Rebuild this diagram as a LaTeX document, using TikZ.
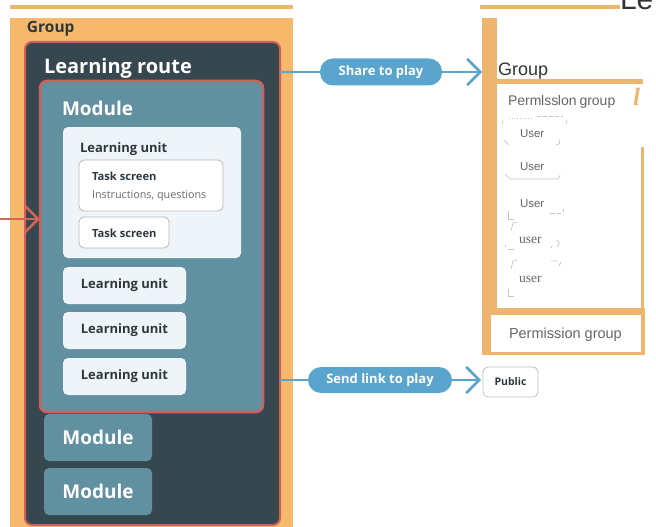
\documentclass[tikz,border=0pt]{standalone}
\usepackage{fontspec}
\setmainfont{Open Sans}
\newfontfamily\arialf{Liberation Sans}
\newfontfamily\timesf{Liberation Serif}
\usetikzlibrary{arrows.meta}
\definecolor{orangeG}{HTML}{F6B96B}
\definecolor{lineO}{HTML}{EDB56E}
\definecolor{darkR}{HTML}{37474F}
\definecolor{redB}{HTML}{CF615C}
\definecolor{modF}{HTML}{6190A1}
\definecolor{luF}{HTML}{EEF4F7}
\definecolor{blueA}{HTML}{5AA5CE}
\definecolor{txtD}{HTML}{2D383E}
\definecolor{grayT}{HTML}{666666}
\definecolor{artG}{HTML}{C4C4C4}
\begin{document}
\begin{tikzpicture}[x=1pt,y=-1pt,
  rect/.style={anchor=north west,inner sep=0pt,outer sep=0pt},
  lbl/.style={anchor=base west,inner sep=0pt,outer sep=0pt},
  lubox/.style={rect,fill=luF,rounded corners=5pt},
  taskbox/.style={rect,fill=white,draw=gray!55,line width=0.8pt,rounded corners=5pt},
  modsmall/.style={rect,fill=modF,rounded corners=5pt},
  pill/.style={fill=blueA,rounded corners=13pt,inner sep=0pt,text=white,font=\bfseries\fontsize{13}{15}\selectfont},
  bluearrow/.style={draw=blueA,line width=2.5pt,-{Straight Barb[length=13pt,width=26pt]}},
  artmark/.style={draw=artG,line width=0.7pt},
]
\useasboundingbox (0,0) rectangle (656,527);
\clip (0,0) rectangle (656,527);
% ---------- left side ----------
\fill[lineO] (10,5) rectangle (293,9);
\node[rect,fill=orangeG,minimum width=283pt,minimum height=520pt] (grp) at (10,18) {};
\node[lbl,text=txtD,font=\bfseries\fontsize{15.5}{17}\selectfont] (grpT) at (27,33) {Group};
\node[rect,fill=darkR,draw=redB,line width=2pt,rounded corners=7pt,minimum width=255pt,minimum height=483pt] (route) at (25,42) {};
\node[lbl,text=white,font=\bfseries\fontsize{20}{22}\selectfont] (routeT) at (44,74) {Learning route};
\node[rect,fill=modF,draw=redB,line width=2.5pt,rounded corners=7pt,minimum width=223pt,minimum height=331pt] (mod) at (40,81) {};
\node[lbl,text=white,font=\bfseries\fontsize{19}{21}\selectfont] (modT) at (62,115) {Module};
\node[lubox,minimum width=178pt,minimum height=131pt] (lu1) at (63,127) {};
\node[lbl,text=txtD,font=\bfseries\fontsize{13}{15}\selectfont] (lu1T) at (80,152) {Learning unit};
\node[taskbox,minimum width=144pt,minimum height=51pt] (ts1) at (79,160) {};
\node[lbl,text=txtD,font=\bfseries\fontsize{11.2}{13}\selectfont] (ts1T) at (92,180) {Task screen};
\node[lbl,text=gray!85!black,font=\fontsize{10.8}{12}\selectfont] (ts1S) at (92,198.5) {Instructions, questions};
\node[taskbox,minimum width=90pt,minimum height=31pt] (ts2) at (79,217) {};
\node[lbl,text=txtD,font=\bfseries\fontsize{11.2}{13}\selectfont] (ts2T) at (92,237) {Task screen};
\foreach \n/\y in {2/267,3/312,4/358}{
  \node[lubox,minimum width=123pt,minimum height=37pt] (lu\n) at (63,\y) {};
  \node[text=txtD,font=\bfseries\fontsize{13}{15}\selectfont,inner sep=0pt] (lu\n T) at (lu\n.center) {Learning unit};
}
\foreach \n/\y in {2/414,3/468}{
  \node[modsmall,minimum width=108pt,minimum height=47pt] (mod\n) at (44,\y) {};
  \node[text=white,font=\bfseries\fontsize{19}{21}\selectfont,inner sep=0pt] (mod\n T) at (mod\n.center) {Module};
}
% red arrow into module
\coordinate (redsrc) at (0,219);
\draw[draw=redB!90!orange,line width=2.5pt,-{Straight Barb[length=13pt,width=26pt]}] (redsrc) -- (mod.west |- redsrc);
% ---------- right side ----------
\fill[lineO] (480,5) rectangle (620,9);
\node[lbl,text=black!80,font=\arialf\fontsize{30}{32}\selectfont] (leT) at (620,10) {Le};
\node[rect,fill=lineO,minimum width=15pt,minimum height=307pt] (rbar) at (482,18) {};
\node[lbl,text=black!80,font=\arialf\fontsize{18}{20}\selectfont] (rgrpT) at (498,75) {Group};
\fill[lineO] (482,79) rectangle (643,84);
\node[lbl,text=lineO,font=\timesf\bfseries\itshape\fontsize{25}{27}\selectfont] (ellT) at (633,106) {l};
\fill[lineO] (641,147) rectangle (644,310);
\node[lbl,text=grayT,font=\arialf\fontsize{14}{16}\selectfont] (pg1T) at (508,106) {Perm\kern-0.3pt lss\kern-0.3pt lon\kern-1pt\ group};
% users
\node[lbl,text=grayT,font=\arialf\fontsize{11.5}{13}\selectfont] (u1) at (520,137) {User};
\node[lbl,text=grayT,font=\arialf\fontsize{11.5}{13}\selectfont] (u2) at (520,170) {User};
\node[lbl,text=grayT,font=\arialf\fontsize{11.5}{13}\selectfont] (u3) at (520,207) {User};
\node[lbl,text=grayT,font=\timesf\fontsize{13.5}{15}\selectfont] (u4) at (519,243) {user};
\node[lbl,text=grayT,font=\timesf\fontsize{13.5}{15}\selectfont] (u5) at (519,282) {user};
% garbled outline marks
\draw[artmark,dotted,line width=1pt] (509,118) -- (532,118);
\draw[artmark,dash pattern=on 4pt off 2pt] (537,116) -- (563,116);
\draw[artmark] (503,120) -- (502,124) (567,120) -- (566,124);
\draw[artmark] (504,140) -- (509,145);
\draw[artmark] (556,145) .. controls (560,144) .. (559,140);
\draw[artmark] (505,174) -- (510,179) -- (555,179) .. controls (559,179) .. (560,175);
\draw[artmark] (508,211) -- (508,219) -- (514,219);
\draw[artmark] (550,213) -- (555,213) (557,213) -- (561,213) (563,209) -- (563,212);
\draw[artmark] (511,231) -- (513,223) -- (517,222);
\draw[artmark] (505,245) -- (505,247) (508,249) -- (514,249);
\draw[artmark] (552,246) -- (551,248) (557,240) .. controls (560,243) .. (557,247);
\draw[artmark] (511,269) -- (513,261) -- (517,260);
\draw[artmark] (551,261) -- (557,261) (561,262) -- (559,266);
\draw[artmark] (508,289) -- (508,296) -- (514,296);
% permission group box
\fill[lineO] (482,308) rectangle (645,355);
\node[rect,fill=white,minimum width=150pt,minimum height=37pt] (pg2) at (491,315) {};
\node[lbl,text=grayT,font=\arialf\fontsize{14.5}{16}\selectfont] (pg2T) at (509,338) {Permission group};
% public box
\node[rect,fill=white,draw=gray!50,line width=0.8pt,rounded corners=5pt,minimum width=55pt,minimum height=30pt] (pub) at (483,367) {};
\node[text=txtD,font=\bfseries\fontsize{10.5}{12}\selectfont,inner sep=0pt] (pubT) at (pub.center) {Public};
% ---------- connectors ----------
\coordinate (shc) at (381,72);
\draw[bluearrow] (route.east |- shc) -- (rbar.west |- shc);
\node[pill,minimum width=122pt,minimum height=27pt] (share) at (shc) {Share to play};
\coordinate (snc) at (380,380);
\draw[bluearrow] (route.east |- snc) -- ([xshift=-2pt]pub.west |- snc);
\node[pill,minimum width=144pt,minimum height=26pt] (send) at (snc) {Send link to play};
\end{tikzpicture}
\end{document}
